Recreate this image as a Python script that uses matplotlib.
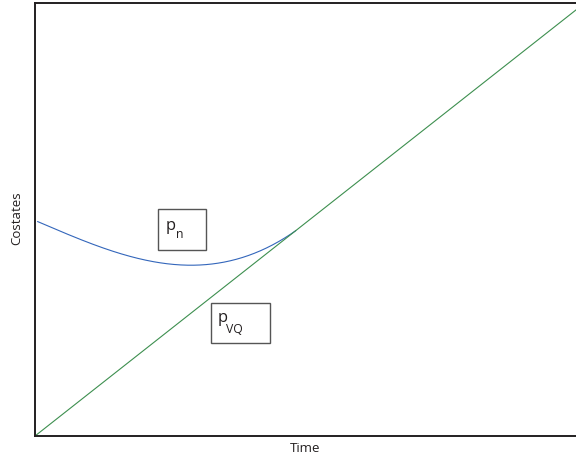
import matplotlib
matplotlib.use("Agg")
import matplotlib.pyplot as plt
from matplotlib.patches import Rectangle
import numpy as np

plt.rcParams["font.family"] = ["Open Sans", "DejaVu Sans"]

W, H = 576, 463

# state-costate paths over normalised time
t_vq = [0.0, 10.0]
p_vq = [0.0, 9.84]

t_n = [0.05, 0.65, 1.39, 2.31, 2.77, 3.42, 3.79, 4.16, 4.53, 4.71, 4.82]
p_n = [4.94, 4.67, 4.25, 4.01, 3.95, 4.00, 4.12, 4.27, 4.48, 4.65, 4.76]

fig = plt.figure(figsize=(W / 100, H / 100), dpi=100)
ax = fig.add_axes([35 / W, 27 / H, 541 / W, 433 / H])

# smooth the sampled costate through a quartic fit
coef = np.polyfit(t_n, p_n, 4)
tt = np.linspace(t_n[0], t_n[-1], 300)
ax.plot(tt, np.polyval(coef, tt), color="#3366bb", lw=0.8)
ax.plot(t_vq, p_vq, color="#3d8f4f", lw=0.8)

ax.set_xlim(0, 10)
ax.set_ylim(0, 10)
ax.set_xticks([])
ax.set_yticks([])
ax.spines["right"].set_visible(False)
for s in ("left", "top", "bottom"):
    ax.spines[s].set_color("#231f20")
    ax.spines[s].set_linewidth(1.4)


def px(x, y):
    return x / W, 1 - y / H


def label_box(x0, y0, x1, y1, base_x, base_y, sub, sub_x, sub_y):
    # framed label: main letter plus a deep subscript
    fig.patches.append(Rectangle(px(x0, y1), (x1 - x0) / W, (y1 - y0) / H,
                                 transform=fig.transFigure, fc="white",
                                 ec="#555555", lw=1.0))
    fig.text(*px(base_x, base_y), "p", fontsize=11.8, ha="left",
             va="baseline", color="#231f20")
    fig.text(*px(sub_x, sub_y), sub, fontsize=8.8, ha="left",
             va="baseline", color="#231f20")


label_box(158, 209, 206, 250, 166, 230.5, "n", 176, 238)
label_box(210.5, 303, 269.5, 343, 217.5, 322, "VQ", 226.5, 333)

fig.text(*px(305, 449), "Time", fontsize=9.5, ha="center",
         va="center", color="#231f20")
fig.text(*px(17, 218), "Costates", fontsize=9.5, ha="center",
         va="center", rotation=90, color="#231f20")

fig.savefig("out.png", dpi=100)
